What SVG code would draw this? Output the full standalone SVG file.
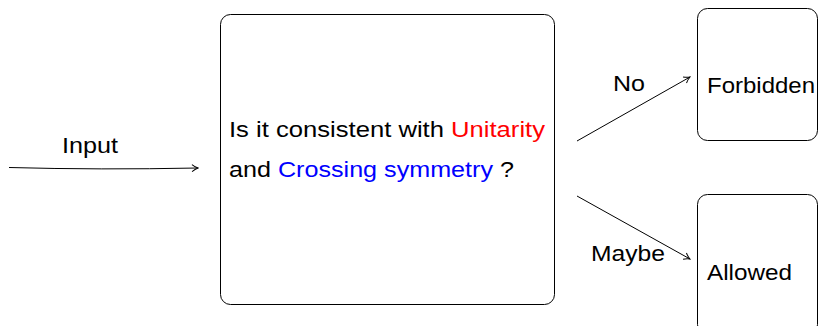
<svg xmlns="http://www.w3.org/2000/svg" width="818" height="326" viewBox="0 0 818 326">
<style>
.box{fill:#fff;stroke:#000;stroke-width:1}
.t{font-family:"Liberation Sans","DejaVu Sans",sans-serif;font-size:22px;fill:#000}
.ln{fill:none;stroke:#000;stroke-width:1}
</style>
<defs>
<marker id="ah" viewBox="0 0 10 10" refX="9" refY="5" markerWidth="10" markerHeight="10" markerUnits="userSpaceOnUse" orient="auto">
<path d="M3,1.5 Q6,4 9,5 Q6,6 3,8.5" fill="none" stroke="#000" stroke-width="1"/>
</marker>
</defs>
<rect width="818" height="326" fill="#fff"/>
<g id="main">
<rect class="box" x="220.5" y="14.5" width="334" height="290" rx="10"/>
<text class="t" x="229" y="137" textLength="316" lengthAdjust="spacingAndGlyphs">Is it consistent with <tspan fill="#ff0000">Unitarity</tspan></text>
<text class="t" x="229" y="177" textLength="285" lengthAdjust="spacingAndGlyphs">and <tspan fill="#0000ff">Crossing symmetry</tspan> ?</text>
</g>
<g id="forbidden">
<rect class="box" x="697.5" y="8.5" width="120" height="132" rx="10"/>
<text class="t" x="707" y="93" textLength="108" lengthAdjust="spacingAndGlyphs">Forbidden</text>
</g>
<g id="allowed">
<rect class="box" x="697.5" y="194.5" width="120" height="140" rx="10"/>
<text class="t" x="707" y="280" textLength="85" lengthAdjust="spacingAndGlyphs">Allowed</text>
</g>
<g id="connectors">
<path class="ln" d="M9,167.5 Q100,170 198,168" marker-end="url(#ah)"/>
<text class="t" x="62" y="153" textLength="56" lengthAdjust="spacingAndGlyphs">Input</text>
<path class="ln" d="M577,141 L690,77" marker-end="url(#ah)"/>
<text class="t" x="613" y="91" textLength="32" lengthAdjust="spacingAndGlyphs">No</text>
<path class="ln" d="M577,196 L690,259" marker-end="url(#ah)"/>
<text class="t" x="591" y="261" textLength="74" lengthAdjust="spacingAndGlyphs">Maybe</text>
</g>
</svg>
